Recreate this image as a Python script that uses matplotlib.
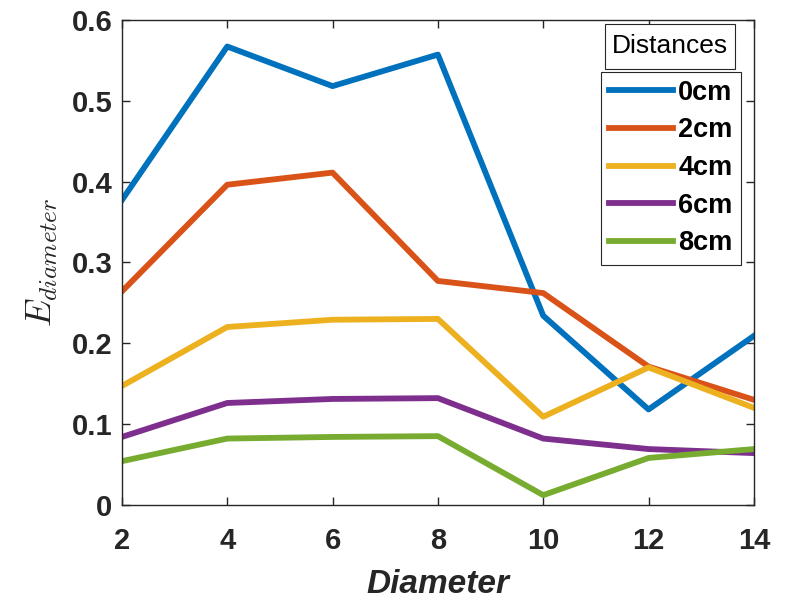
import matplotlib
matplotlib.use('Agg')
import matplotlib.pyplot as plt
from matplotlib.patches import Rectangle

diameters = [2, 4, 6, 8, 10, 12, 14]
labels = ['0cm', '2cm', '4cm', '6cm', '8cm']
e_0cm = [0.377, 0.567, 0.518, 0.557, 0.234, 0.118, 0.209]
e_2cm = [0.264, 0.396, 0.411, 0.277, 0.262, 0.171, 0.130]
e_4cm = [0.147, 0.220, 0.229, 0.230, 0.109, 0.170, 0.120]
e_6cm = [0.084, 0.126, 0.131, 0.132, 0.082, 0.069, 0.064]
e_8cm = [0.054, 0.082, 0.084, 0.085, 0.012, 0.058, 0.069]
colors = ['#0072BD', '#D95319', '#EDB120', '#7E2F8E', '#77AC30']

plt.rcParams['font.family'] = ['Liberation Sans', 'DejaVu Sans']
plt.rcParams['mathtext.fontset'] = 'cm'

fig = plt.figure(figsize=(8.02, 6.01), dpi=100)
ax = fig.add_axes([0.152, 0.16, 0.788, 0.807])

for series, lab, col in zip([e_0cm, e_2cm, e_4cm, e_6cm, e_8cm], labels, colors):
    ax.plot(diameters, series, color=col, lw=4.2, label=lab)

ax.set_xlim(2, 14)
ax.set_ylim(0, 0.6)
ax.set_xticks(diameters)
ax.set_yticks([0, 0.1, 0.2, 0.3, 0.4, 0.5, 0.6])
ax.set_yticklabels(['0', '0.1', '0.2', '0.3', '0.4', '0.5', '0.6'])

dark = '#262626'
for sp in ax.spines.values():
    sp.set_color(dark)
    sp.set_linewidth(1)
ax.tick_params(direction='in', top=True, right=True, length=6, width=1,
               colors=dark, labelsize=21)
ax.tick_params(axis='x', pad=16)
ax.tick_params(axis='y', pad=7)
for t in ax.get_xticklabels() + ax.get_yticklabels():
    t.set_fontweight('bold')

ax.set_xlabel('Diameter', fontsize=24, fontweight='bold', fontstyle='italic',
              color=dark, labelpad=10)
ax.set_ylabel(r'$E_{diameter}$', fontsize=26, color=dark, labelpad=8)

leg = ax.legend(loc='upper right', bbox_to_anchor=(0.979, 0.893),
                borderaxespad=0, prop={'weight': 'bold', 'size': 19.5},
                handlelength=2.35, handletextpad=0.2, labelspacing=0.43,
                borderpad=0.3, fancybox=False, framealpha=1, edgecolor=dark)
leg.get_frame().set_linewidth(0.8)

ax.add_patch(Rectangle((0.764, 0.899), 0.206, 0.093, transform=ax.transAxes,
                       fc='white', ec=dark, lw=0.8, zorder=5, clip_on=False))
ax.text(0.867, 0.9455, 'Distances', transform=ax.transAxes, ha='center',
        va='center', fontsize=19, color='black', zorder=6)

fig.savefig('out.png', dpi=100)
